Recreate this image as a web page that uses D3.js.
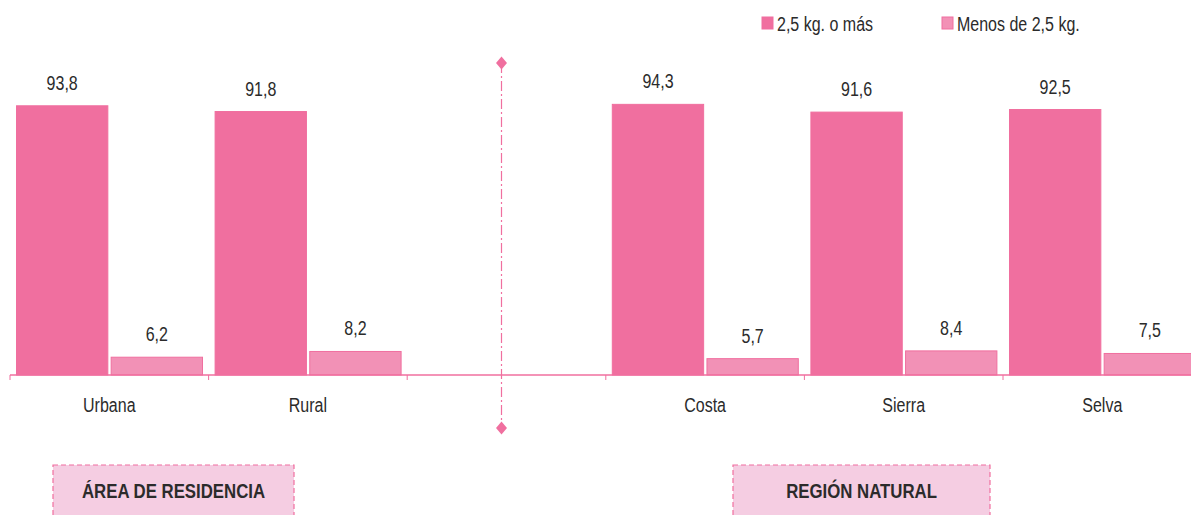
<!DOCTYPE html>
<html>
<head>
<meta charset="utf-8">
<script src="https://cdn.jsdelivr.net/npm/d3@7"></script>
<style>
  body { margin: 0; background: #fff; }
  text { font-family: "Liberation Sans Narrow", "Arial Narrow", "Liberation Sans", Arial, sans-serif; fill: #2b2b2b; }
</style>
</head>
<body>
<script>
'use strict';

// data
const categories = ["Urbana", "Rural", "", "Costa", "Sierra", "Selva"];
const seriesNames = ["2,5 kg. o más", "Menos de 2,5 kg."];
const mas25 = [93.8, 91.8, null, 94.3, 91.6, 92.5];
const menos25 = [6.2, 8.2, null, 5.7, 8.4, 7.5];
const groupLabels = ["ÁREA DE RESIDENCIA", "REGIÓN NATURAL"];

const pink = "#f06f9f";
const lightPink = "#f291b6";
const boxFill = "#f5cde2";
const narrow = 0.8; // horizontal squeeze to imitate a narrow face

const svg = d3.select("body").append("svg")
  .attr("width", 1191)
  .attr("height", 515);

// place a condensed text at (x, y)
function label(parent, tx, ty, str, size, anchor, bold) {
  return parent.append("text")
    .attr("transform", `translate(${tx},${ty}) scale(${narrow},1)`)
    .attr("text-anchor", anchor || "start")
    .style("font-size", size + "px")
    .style("font-weight", bold ? "bold" : "normal")
    .text(str);
}

// x: one band per category, bars inside
const x = d3.scaleBand()
  .domain(d3.range(categories.length))
  .range([10, 10 + 198.6 * categories.length])
  .paddingInner(0)
  .paddingOuter(0);

const xs = d3.scaleBand()
  .domain([0, 1])
  .range([6.5, 192.5])
  .paddingInner(0.035);

const y = d3.scaleLinear()
  .domain([0, 100])
  .range([375, 88]);

const fmt = v => d3.format(".1f")(v).replace(".", ",");

const rows = categories.map((c, i) => ({ cat: c, i: i, vals: [mas25[i], menos25[i]] }));

const groups = svg.selectAll(".grp")
  .data(rows.filter(d => d.vals[0] !== null))
  .enter().append("g")
  .attr("class", "grp")
  .attr("transform", d => `translate(${x(d.i)},0)`);

groups.selectAll("rect")
  .data(d => d.vals.map((v, k) => ({ v: v, k: k })))
  .enter().append("rect")
  .attr("x", d => xs(d.k))
  .attr("y", d => y(d.v))
  .attr("width", xs.bandwidth())
  .attr("height", d => y(0) - y(d.v))
  .attr("fill", d => d.k === 0 ? pink : lightPink)
  .attr("stroke", pink)
  .attr("stroke-width", 1);

groups.each(function (d) {
  const g = d3.select(this);
  d.vals.forEach((v, k) => {
    label(g, xs(k) + xs.bandwidth() / 2, y(v) - 16, fmt(v), 20, "middle");
  });
});

// x axis
const axis = svg.append("g")
  .attr("transform", "translate(0,375)");
axis.append("line")
  .attr("x1", x.range()[0]).attr("x2", 1191)
  .attr("stroke", pink).attr("stroke-width", 1.5);
axis.selectAll(".tick")
  .data(d3.range(categories.length))
  .enter().append("line")
  .attr("x1", d => x(d)).attr("x2", d => x(d))
  .attr("y1", 0).attr("y2", 5)
  .attr("stroke", pink).attr("stroke-width", 1);
categories.forEach((c, i) => {
  label(axis, x(i) + x.bandwidth() / 2, 37, c, 20, "middle");
});

// divider in the empty slot
const divX = x(2) + x.bandwidth() / 2 - 5;
svg.append("line")
  .attr("x1", divX).attr("x2", divX)
  .attr("y1", 63).attr("y2", 428)
  .attr("stroke", pink).attr("stroke-width", 1.2)
  .attr("stroke-dasharray", "10,3,2,3");
[63, 428].forEach(yy => {
  svg.append("path")
    .attr("d", "M0,-6.5L5.5,0L0,6.5L-5.5,0Z")
    .attr("transform", `translate(${divX},${yy})`)
    .attr("fill", pink);
});

// legend
const legendX = [762, 942];
seriesNames.forEach((s, k) => {
  svg.append("rect")
    .attr("x", legendX[k]).attr("y", 17)
    .attr("width", 11).attr("height", 12)
    .attr("fill", k === 0 ? pink : lightPink)
    .attr("stroke", pink).attr("stroke-width", 1);
  label(svg, legendX[k] + 15, 31, s, 20, "start");
});

// group boxes
const boxes = [{ x0: 53, x1: 294 }, { x0: 733, x1: 990 }];
boxes.forEach((b, k) => {
  svg.append("rect")
    .attr("x", b.x0).attr("y", 465)
    .attr("width", b.x1 - b.x0).attr("height", 60)
    .attr("fill", boxFill)
    .attr("stroke", pink).attr("stroke-width", 1.2)
    .attr("stroke-dasharray", "5,3");
  label(svg, (b.x0 + b.x1) / 2, 498, groupLabels[k], 21, "middle", true);
});
</script>
</body>
</html>
